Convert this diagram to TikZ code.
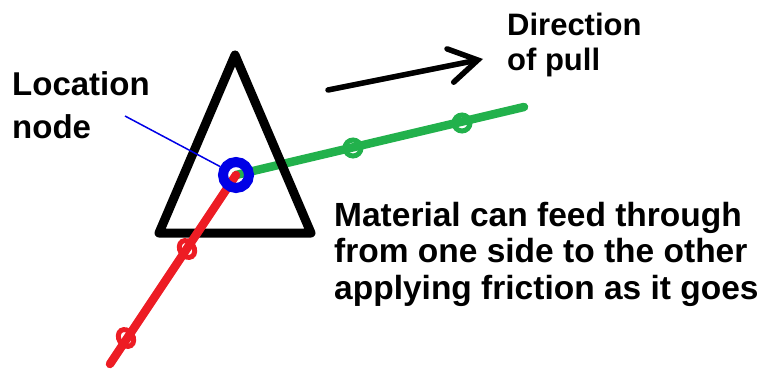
\documentclass[tikz,border=0pt]{standalone}
\usepackage{fontspec}
\setmainfont{Liberation Sans}
\usetikzlibrary{arrows.meta,shapes.geometric}
\definecolor{pRed}{RGB}{237,28,36}
\definecolor{pGreen}{RGB}{34,177,76}
\definecolor{pBlue}{RGB}{0,0,230}
\tikzset{
  lbl/.style={anchor=north west, inner sep=0pt, align=left, font=\bfseries},
  bead/.style={line width=5pt, inner sep=0pt},
  rope/.style={line width=8.5pt},
}
\begin{document}
\begin{tikzpicture}[x=1pt,y=-1pt]
\useasboundingbox (0,0) rectangle (763,369);
% coordinates
\coordinate (loc) at (236,175);
\coordinate (gend) at (524,107);
\coordinate (rend) at (110,364);
\coordinate (tA) at (235,55);
\coordinate (tL) at (159,233);
\coordinate (tR) at (311,233);
% green rope
\draw[rope, pGreen, line cap=round] (loc) -- (gend);
\node[bead, draw=pGreen, circle, minimum size=16pt] (g1) at (353,148) {};
\node[bead, draw=pGreen, circle, minimum size=16pt] (g2) at (462,123) {};
% triangle
\draw[line width=9pt, line join=round, line cap=round] (tA) -- (tR) -- (tL) -- cycle;
% red rope
\draw[rope, pRed, line cap=round] (loc) -- (rend);
\node[bead, draw=pRed, ellipse, minimum width=18pt, minimum height=14pt, rotate=-56] (r1) at (187,249) {};
\node[bead, draw=pRed, ellipse, minimum width=18pt, minimum height=14pt, rotate=-56] (r2) at (126,338) {};
% location node ring
\node[draw=pBlue, line width=10pt, circle, minimum size=26pt, inner sep=0pt] (ring) at (loc) {};
% labels
\node[lbl, font=\bfseries\fontsize{33}{43}\selectfont] (loclbl) at (12,71) {Location\\node};
\coordinate (lpt) at (125,116);
\draw[pBlue, line width=1.5pt] (lpt) -- (ring);
\node[lbl, font=\bfseries\fontsize{31}{35}\selectfont] (dir) at (507,13) {Direction\\of pull};
\node[lbl, font=\bfseries\fontsize{33.5}{36.5}\selectfont] (mat) at (334,202) {Material can feed through\\from one side to the other\\applying friction as it goes};
% pull arrow
\coordinate (a1) at (328,90);
\coordinate (a2) at (483,59);
\draw[line width=5.5pt, line cap=round, -{Straight Barb[length=28pt, width=34pt, line cap=round]}] (a1) -- (a2);
\end{tikzpicture}
\end{document}
